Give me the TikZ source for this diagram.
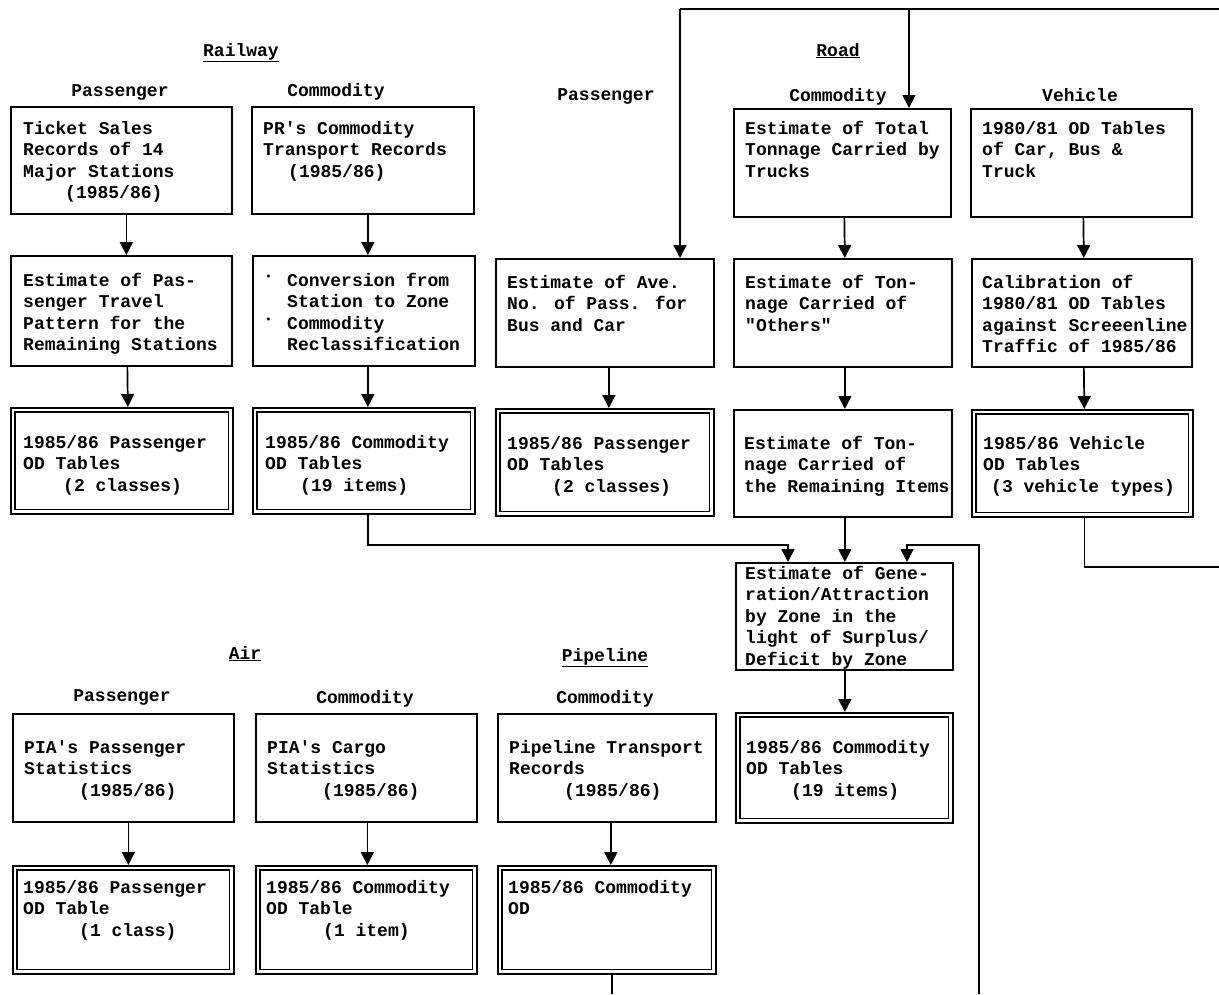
\documentclass[tikz,border=0pt]{standalone}
\usepackage{fontspec}
\usetikzlibrary{arrows.meta,calc}
\newfontfamily\tw{Liberation Mono}
\newcommand\twsize{\tw\bfseries\fontsize{18}{21.5}\selectfont}
\newcommand\bul{\makebox[24pt][l]{\raisebox{5pt}{·}}}
\begin{document}
\begin{tikzpicture}[x=1pt,y=-1pt,
  rbox/.style={draw, line width=1.7pt, inner sep=0, anchor=north west,
    minimum width=221pt, minimum height=108pt},
  inner/.style={draw, line width=1.3pt},
  txt/.style={anchor=base west, inner sep=0, font=\twsize},
  hdr/.style={anchor=base, inner sep=0, font=\twsize},
  arr/.style={line width=1.7pt, -{Triangle[width=13pt,length=13pt]}},
  conn/.style={line width=1.5pt}]
\useasboundingbox (0,0) rectangle (1219,994);

% ---------- headers ----------
\node[hdr] (lrail) at (241,56) {\underline{Railway}};
\node[hdr] (hrp) at (120,96) {Passenger};
\node[hdr] (hrc) at (336,96) {Commodity};
\node[hdr] (lroad) at (838,56) {\underline{Road}};
\node[hdr] (hdp) at (606,100) {Passenger};
\node[hdr] (hdc) at (838,101) {Commodity};
\node[hdr] (hdv) at (1080,101) {Vehicle};
\node[hdr] (lair) at (245,659) {\underline{Air}};
\node[hdr] (lpipe) at (605,661) {\underline{Pipeline}};
\node[hdr] (hap) at (122,701) {Passenger};
\node[hdr] (hac) at (365,703) {Commodity};
\node[hdr] (hpc) at (605,703) {Commodity};

% ---------- railway ----------
\node[rbox, minimum height=107pt] (ts) at (10,106) {};
\node[txt] (ts-t) at ($(ts.north west)+(13,28)$) {\parbox[t]{210pt}{Ticket Sales\\Records of 14\\Major Stations\\\hspace*{42pt}(1985/86)}};
\node[rbox, minimum width=222pt, minimum height=107pt] (pr) at (251,106) {};
\node[txt] (pr-t) at ($(pr.north west)+(12,28)$) {\parbox[t]{210pt}{PR's Commodity\\Transport Records\\\hspace*{25pt}(1985/86)}};

\node[rbox, minimum height=110pt] (ep) at (10,255) {};
\node[txt] (ep-t) at ($(ep.north west)+(13,31)$) {\parbox[t]{210pt}{Estimate of Pas-\\senger Travel\\Pattern for the\\Remaining Stations}};
\node[rbox, minimum width=222pt, minimum height=110pt] (cv) at (252,255) {};
\node[txt] (cv-t) at ($(cv.north west)+(11,31)$) {\parbox[t]{212pt}{\bul Conversion from\\\hspace*{24pt}Station to Zone\\\bul Commodity\\\hspace*{24pt}Reclassification}};

\node[rbox, minimum width=222pt, minimum height=106pt] (rpod) at (10,407) {};
\node[txt] (rpod-t) at ($(rpod.north west)+(13,41)$) {\parbox[t]{210pt}{1985/86 Passenger\\OD Tables\\\hspace*{40pt}(2 classes)}};
\node[rbox, minimum width=222pt, minimum height=106pt] (rcod) at (252,407) {};
\node[txt] (rcod-t) at ($(rcod.north west)+(13,41)$) {\parbox[t]{210pt}{1985/86 Commodity\\OD Tables\\\hspace*{35pt}(19 items)}};

% ---------- road ----------
\node[rbox, minimum width=218pt] (ave) at (495,258) {};
\node[txt] (ave-t) at ($(ave.north west)+(12,30)$) {\parbox[t]{206pt}{Estimate of Ave.\\No. of Pass. for\\Bus and Car}};
\node[rbox, minimum width=218pt, minimum height=107pt] (pod) at (495,408) {};
\node[txt] (pod-t) at ($(pod.north west)+(12,41)$) {\parbox[t]{206pt}{1985/86 Passenger\\OD Tables\\\hspace*{45pt}(2 classes)}};

\node[rbox, minimum width=217pt] (tot) at (733,108) {};
\node[txt] (tot-t) at ($(tot.north west)+(12,26)$) {\parbox[t]{206pt}{Estimate of Total\\Tonnage Carried by\\Trucks}};
\node[rbox, minimum width=218pt] (oth) at (733,258) {};
\node[txt] (oth-t) at ($(oth.north west)+(12,30)$) {\parbox[t]{206pt}{Estimate of Ton-\\nage Carried of\\"Others"}};
\node[rbox, minimum width=218pt, minimum height=107pt] (rem) at (733,409) {};
\node[txt] (rem-t) at ($(rem.north west)+(11,40)$) {\parbox[t]{207pt}{Estimate of Ton-\\nage Carried of\\the Remaining Items}};

\node[rbox, minimum width=221pt] (v80) at (970,108) {};
\node[txt] (v80-t) at ($(v80.north west)+(12,26)$) {\parbox[t]{208pt}{1980/81 OD Tables\\of Car, Bus \&\\Truck}};
\node[rbox, minimum width=220pt] (cal) at (971,258) {};
\node[txt] (cal-t) at ($(cal.north west)+(11,30)$) {\parbox[t]{209pt}{Calibration of\\1980/81 OD Tables\\against Screeenline\\Traffic of 1985/86}};
\node[rbox, minimum width=221pt, minimum height=107pt] (vod) at (971,409) {};
\node[txt] (vod-t) at ($(vod.north west)+(12,40)$) {\parbox[t]{209pt}{1985/86 Vehicle\\OD Tables\\\hspace*{8pt}(3 vehicle types)}};

\node[rbox, minimum width=217pt, minimum height=107pt] (gen) at (735,562) {};
\node[txt] (gen-t) at ($(gen.north west)+(10,17)$) {\parbox[t]{207pt}{Estimate of Gene-\\ration/Attraction\\by Zone in the\\light of Surplus/\\Deficit by Zone}};
\node[rbox, minimum width=217pt, minimum height=110pt] (rcod2) at (735,712) {};
\node[txt] (rcod2-t) at ($(rcod2.north west)+(11,41)$) {\parbox[t]{206pt}{1985/86 Commodity\\OD Tables\\\hspace*{45pt}(19 items)}};

% ---------- air / pipeline ----------
\node[rbox, minimum width=221pt] (pia) at (12,713) {};
\node[txt] (pia-t) at ($(pia.north west)+(12,40)$) {\parbox[t]{208pt}{PIA's Passenger\\Statistics\\\hspace*{55pt}(1985/86)}};
\node[rbox, minimum width=221pt] (cgo) at (255,713) {};
\node[txt] (cgo-t) at ($(cgo.north west)+(12,40)$) {\parbox[t]{208pt}{PIA's Cargo\\Statistics\\\hspace*{55pt}(1985/86)}};
\node[rbox, minimum width=218pt] (pip) at (497,713) {};
\node[txt] (pip-t) at ($(pip.north west)+(12,40)$) {\parbox[t]{206pt}{Pipeline Transport\\Records\\\hspace*{55pt}(1985/86)}};

\node[rbox, minimum width=221pt] (piaod) at (12,865) {};
\node[txt] (piaod-t) at ($(piaod.north west)+(11,28)$) {\parbox[t]{208pt}{1985/86 Passenger\\OD Table\\\hspace*{56pt}(1 class)}};
\node[rbox, minimum width=221pt] (cgood) at (255,865) {};
\node[txt] (cgood-t) at ($(cgood.north west)+(11,28)$) {\parbox[t]{208pt}{1985/86 Commodity\\OD Table\\\hspace*{57pt}(1 item)}};
\node[rbox, minimum width=218pt] (pipod) at (497,865) {};
\node[txt] (pipod-t) at ($(pipod.north west)+(11,28)$) {\parbox[t]{206pt}{1985/86 Commodity\\OD}};

% inner borders of the result boxes
\foreach \n in {rpod,rcod,pod,vod,rcod2,piaod,cgood,pipod}
  \draw[inner] ([shift={(5,5)}]\n.north west) rectangle ([shift={(-5,-5)}]\n.south east);

% ---------- connectors ----------
\coordinate (topL) at (680,9);
\coordinate (topM) at (909,9);
\coordinate (topR) at (1219,9);
\coordinate (jl) at (788,545);
\coordinate (jr) at (979,545);
\coordinate (jr2) at (907,545);
\coordinate (botR) at (979,994);
\coordinate (vR) at (1219,567);
\coordinate (pB) at (612,994);

\draw[conn] (topR) -- (topL);
\draw[arr] (topL) -- (topL |- ave.north);
\draw[arr] (topM) -- (topM |- tot.north);

\draw[arr] ([xshift=5pt]ts.south) -- ([xshift=5pt]ep.north);
\draw[arr] ([xshift=6pt]ep.south) -- ([xshift=6pt]rpod.north);
\draw[arr] ([xshift=5pt]pr.south) -- ([xshift=4pt]cv.north);
\draw[arr] ([xshift=4pt]cv.south) -- ([xshift=4pt]rcod.north);

\draw[arr] ([xshift=4pt]ave.south) -- ([xshift=4pt]pod.north);
\draw[arr] ([xshift=2pt]tot.south) -- ([xshift=2pt]oth.north);
\draw[arr] ([xshift=2pt]oth.south) -- ([xshift=2pt]rem.north);
\draw[arr] ([xshift=2pt]v80.south) -- ([xshift=2pt]cal.north);
\draw[arr] ([xshift=2pt]cal.south) -- ([xshift=2pt]vod.north);

\draw[arr] ([xshift=4pt]rcod.south) |- (jl) -- (jl |- gen.north);
\draw[arr] ([xshift=2pt]rem.south) -- ([xshift=0.5pt]gen.north);
\draw[arr] (botR) -- (jr) -- (jr2) -- (jr2 |- gen.north);
\draw[conn] ([xshift=2pt]vod.south) |- (vR);
\draw[arr] ([xshift=0.5pt]gen.south) -- ([xshift=0.5pt]rcod2.north);

\draw[arr] ([xshift=5pt]pia.south) -- ([xshift=5pt]piaod.north);
\draw[arr] ([xshift=1pt]cgo.south) -- ([xshift=1pt]cgood.north);
\draw[arr] ([xshift=4pt]pip.south) -- ([xshift=4pt]pipod.north);
\draw[conn] (pipod.south -| pB) -- (pB);
\end{tikzpicture}
\end{document}
